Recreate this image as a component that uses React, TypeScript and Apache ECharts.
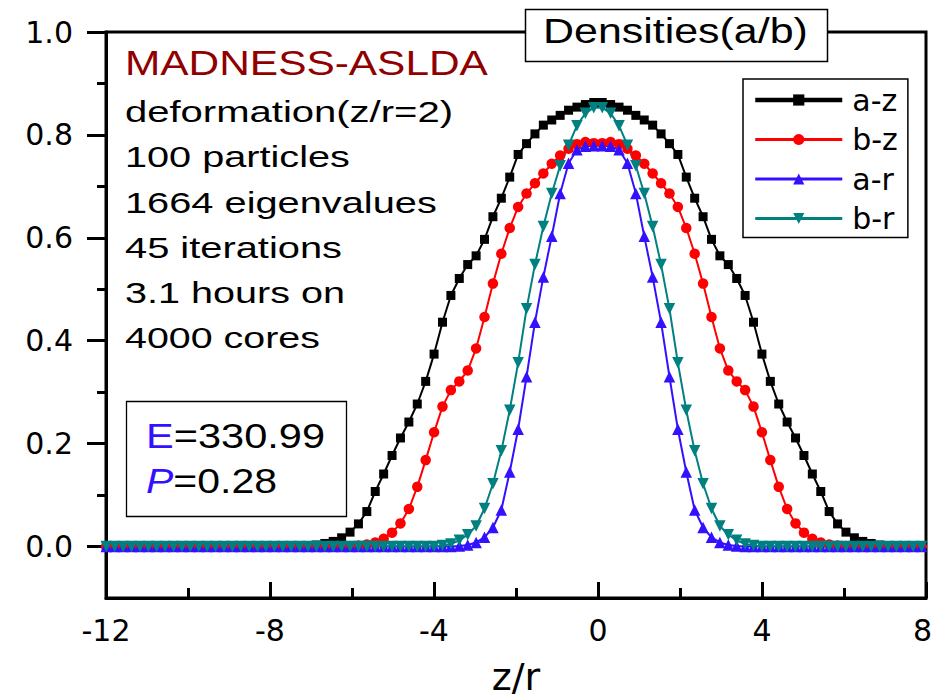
import React, { useEffect, useRef } from "react";
import * as echarts from "echarts";

// Sampling grid (z/r)
const Z_GRID = [
  -11.993, -11.788, -11.583, -11.378, -11.173, -10.968, -10.763, -10.558, -10.353, -10.148,
  -9.943, -9.738, -9.533, -9.328, -9.123, -8.918, -8.713, -8.508, -8.303, -8.098,
  -7.893, -7.688, -7.483, -7.278, -7.073, -6.868, -6.663, -6.458, -6.253, -6.048,
  -5.843, -5.638, -5.433, -5.228, -5.023, -4.818, -4.613, -4.408, -4.203, -3.998,
  -3.793, -3.588, -3.383, -3.178, -2.973, -2.768, -2.563, -2.358, -2.153, -1.948,
  -1.743, -1.538, -1.333, -1.128, -0.923, -0.718, -0.513, -0.308, -0.103,
  0.103, 0.308, 0.513, 0.718, 0.923, 1.128, 1.333, 1.538, 1.743, 1.948,
  2.153, 2.358, 2.563, 2.768, 2.973, 3.178, 3.383, 3.588, 3.793, 3.998,
  4.203, 4.408, 4.613, 4.818, 5.023, 5.228, 5.433, 5.638, 5.843, 6.048,
  6.253, 6.458, 6.663, 6.868, 7.073, 7.278, 7.483, 7.688, 7.893, 8.098,
];

const A_Z = [
  0, 0, 0, 0, 0, 0, 0, 0, 0, 0,
  0, 0, 0, 0, 0, 0, 0, 0, 0, 0,
  0, 0, 0, 0,
  0.001, 0.003, 0.006, 0.010, 0.017, 0.028, 0.044, 0.068, 0.107, 0.141,
  0.177, 0.211, 0.242, 0.277, 0.321, 0.374, 0.436, 0.488, 0.521, 0.548,
  0.565, 0.597, 0.641, 0.677, 0.718, 0.762, 0.783, 0.802, 0.819, 0.829,
  0.838, 0.848, 0.854, 0.859, 0.863,
  0.863, 0.859, 0.854, 0.848, 0.838, 0.829, 0.819, 0.802, 0.783, 0.762,
  0.718, 0.677, 0.641, 0.597, 0.565, 0.548, 0.521, 0.488, 0.436, 0.374,
  0.321, 0.277, 0.242, 0.211, 0.177, 0.141, 0.107, 0.068, 0.044, 0.028,
  0.017, 0.010, 0.006, 0.003, 0.001, 0, 0, 0, 0, 0,
];

const B_Z = [
  0, 0, 0, 0, 0, 0, 0, 0, 0, 0,
  0, 0, 0, 0, 0, 0, 0, 0, 0, 0,
  0, 0, 0, 0, 0, 0, 0, 0, 0,
  0.001, 0.002, 0.004, 0.008, 0.015, 0.027, 0.045, 0.073, 0.116, 0.168,
  0.222, 0.272, 0.304, 0.321, 0.342, 0.385, 0.446, 0.511, 0.569, 0.619,
  0.660, 0.686, 0.706, 0.725, 0.744, 0.760, 0.773, 0.782, 0.786, 0.784,
  0.784, 0.786, 0.782, 0.773, 0.760, 0.744, 0.725, 0.706, 0.686, 0.660,
  0.619, 0.569, 0.511, 0.446, 0.385, 0.342, 0.321, 0.304, 0.272, 0.222,
  0.168, 0.116, 0.073, 0.045, 0.027, 0.015, 0.008, 0.004, 0.002, 0.001,
  0, 0, 0, 0, 0, 0, 0, 0, 0, 0,
];

const A_R = [
  0, 0, 0, 0, 0, 0, 0, 0, 0, 0,
  0, 0, 0, 0, 0, 0, 0, 0, 0, 0,
  0, 0, 0, 0, 0, 0, 0, 0, 0, 0,
  0, 0, 0, 0, 0, 0, 0, 0, 0, 0,
  0, 0,
  0.001, 0.003, 0.008, 0.018, 0.037, 0.071, 0.145, 0.228, 0.330, 0.436,
  0.524, 0.603, 0.686, 0.745, 0.771, 0.778, 0.779,
  0.779, 0.778, 0.771, 0.745, 0.686, 0.603, 0.524, 0.436, 0.330, 0.228,
  0.145, 0.071, 0.037, 0.018, 0.008, 0.003, 0.001,
  0, 0, 0, 0, 0, 0, 0, 0, 0, 0,
  0, 0, 0, 0, 0, 0, 0, 0, 0, 0,
  0, 0, 0,
];

const B_R = [
  0, 0, 0, 0, 0, 0, 0, 0, 0, 0,
  0, 0, 0, 0, 0, 0, 0, 0, 0, 0,
  0, 0, 0, 0, 0, 0, 0, 0, 0, 0,
  0, 0, 0, 0, 0, 0, 0, 0, 0, 0,
  0.002, 0.005, 0.012, 0.023, 0.040, 0.074, 0.122, 0.186, 0.265, 0.357,
  0.462, 0.548, 0.622, 0.686, 0.740, 0.780, 0.818, 0.842, 0.853,
  0.853, 0.842, 0.818, 0.780, 0.740, 0.686, 0.622, 0.548, 0.462, 0.357,
  0.265, 0.186, 0.122, 0.074, 0.040, 0.023, 0.012, 0.005, 0.002,
  0, 0, 0, 0, 0, 0, 0, 0, 0, 0,
  0, 0, 0, 0, 0, 0, 0, 0, 0, 0,
  0,
];

const SERIES_NAMES = ["a-z", "b-z", "a-r", "b-r"];
const SERIES_VALUES = [A_Z, B_Z, A_R, B_R];
const X_MAX = 8;
const Y_LABEL_VALUES = [0, 0.2, 0.4, 0.6, 0.8, 1.0];
const Y_MINOR_VALUES = [0.1, 0.3, 0.5, 0.7, 0.9];
const TITLE = "Densities(a/b)";
const X_NAME = "z/r";
const CODE_NAME = "MADNESS-ASLDA";
const INFO_LINES = [
  "deformation(z/r=2)",
  "100 particles",
  "1664 eigenvalues",
  "45 iterations",
  "3.1 hours on",
  "4000 cores",
];
const ENERGY_SYMBOL = "E";
const ENERGY_VALUE = "330.99";
const P_SYMBOL = "P";
const P_VALUE = "0.28";

// layout / style
const COLORS = ["#000000", "#ff0000", "#3311ff", "#008080"];
const SYMBOLS = ["rect", "circle", "triangle", "triangle"];
const SYMBOL_ROTATE = [0, 0, 0, 180];
const SYMBOL_SIZE = [9, 10.5, 11.5, 11.5];
const INFO_WIDTHS = [328, 225, 312, 217, 220, 195];
const LABEL_FONT = "DejaVu Sans";
const SANS = '"Liberation Sans"';

let measureCtx: CanvasRenderingContext2D | null = null;
function textWidth(text: string, font: string): number {
  if (!measureCtx) measureCtx = document.createElement("canvas").getContext("2d");
  if (!measureCtx) return text.length * 10;
  measureCtx.font = font;
  return measureCtx.measureText(text).width;
}

function stretchedText(text: string, x: number, baseline: number, size: number, targetW: number, fill: string, z = 10) {
  const font = `${size}px ${SANS}`;
  return {
    type: "text",
    x,
    y: baseline - 0.35 * size,
    scaleX: targetW / textWidth(text, font),
    z,
    style: {
      text,
      font,
      fill,
      align: "left",
      textAlign: "left",
      verticalAlign: "middle",
      textVerticalAlign: "middle",
    },
  };
}

function richLine(sym: string, val: string, italic: boolean, x: number, baseline: number, size: number, targetW: number) {
  const font = `${size}px ${SANS}`;
  const symFont = `${italic ? "italic " : ""}${size}px ${SANS}`;
  const w = textWidth(sym, symFont) + textWidth("=" + val, font);
  return {
    type: "text",
    x,
    y: baseline - 0.35 * size,
    scaleX: targetW / w,
    z: 11,
    style: {
      text: `{s|${sym}}{v|=${val}}`,
      font,
      align: "left",
      textAlign: "left",
      verticalAlign: "middle",
      textVerticalAlign: "middle",
      rich: {
        s: { fill: "#3311ff", font: symFont },
        v: { fill: "#000000", font },
      },
    },
  };
}

export default function App() {
  const ref = useRef<HTMLDivElement>(null);

  useEffect(() => {
    document.body.style.margin = "0";
    if (!ref.current) return;
    const chart = echarts.init(ref.current, null, { renderer: "svg" });

    const series = SERIES_NAMES.map((name, i) => ({
      type: "line",
      name,
      data: Z_GRID.map((z, j) => [z, SERIES_VALUES[i][j]]),
      symbol: SYMBOLS[i],
      symbolSize: SYMBOL_SIZE[i],
      symbolRotate: SYMBOL_ROTATE[i],
      showAllSymbol: true,
      color: COLORS[i],
      itemStyle: { color: COLORS[i] },
      lineStyle: { color: COLORS[i], width: 2 },
      clip: true,
      silent: true,
      emphasis: { disabled: true },
    }));

    const graphic: any[] = [
      {
        type: "rect",
        z: 20,
        shape: { x: 525.5, y: 9.5, width: 302, height: 52 },
        style: { fill: "#ffffff", stroke: "#000000", lineWidth: 1.5 },
      },
      stretchedText(TITLE, 543, 43, 36, 265, "#000000", 21),
      stretchedText(CODE_NAME, 125, 75, 35, 363, "#900000"),
      ...INFO_LINES.map((t, i) => stretchedText(t, 125, 122 + i * 45.2, 29, INFO_WIDTHS[i], "#000000")),
      {
        type: "rect",
        z: 9,
        shape: { x: 126.5, y: 401.5, width: 220, height: 115 },
        style: { fill: "#ffffff", stroke: "#000000", lineWidth: 1.3 },
      },
      richLine(ENERGY_SYMBOL, ENERGY_VALUE, false, 146, 448, 36, 179),
      richLine(P_SYMBOL, P_VALUE, true, 146, 493, 36, 131),
    ];

    const option: any = {
      animation: false,
      backgroundColor: "#ffffff",
      legend: {
        orient: "vertical",
        left: 743,
        top: 79,
        padding: [6, 10, 4, 10],
        itemWidth: 87,
        itemHeight: 14,
        itemGap: 9.5,
        borderColor: "#000000",
        borderWidth: 1.5,
        backgroundColor: "#ffffff",
        selectedMode: false,
        textStyle: {
          fontFamily: LABEL_FONT,
          fontSize: 30,
          lineHeight: 30,
          color: "#000000",
          padding: [0, 0, 0, 5],
        },
        data: SERIES_NAMES.map((n, i) => ({ name: n, lineStyle: { width: i === 0 ? 4.5 : 3 } })),
      },
      grid: {
        left: 106,
        right: 7,
        top: 32,
        bottom: 102,
        show: true,
        borderColor: "#000000",
        borderWidth: 3,
        containLabel: false,
        outerBoundsMode: "none",
      },
      xAxis: {
        type: "value",
        min: -12,
        max: X_MAX,
        interval: 4,
        name: X_NAME,
        nameLocation: "middle",
        nameGap: 64,
        nameTextStyle: { fontFamily: LABEL_FONT, fontSize: 38, lineHeight: 30, color: "#000000" },
        axisLine: { show: true, onZero: false, lineStyle: { color: "#000000", width: 3 } },
        axisTick: { show: true, inside: true, length: 16, lineStyle: { color: "#000000", width: 3 } },
        minorTick: { show: true, splitNumber: 2, length: 10, lineStyle: { color: "#000000", width: 3 } },
        axisLabel: {
          margin: 17,
          fontFamily: LABEL_FONT,
          fontSize: 30,
          color: "#000000",
          formatter: (v: number) => (v === X_MAX ? `{edge|${v}}` : `${v}`),
          rich: {
            edge: { fontFamily: LABEL_FONT, fontSize: 30, color: "#000000", padding: [0, 7, 0, 0] },
          },
        },
        splitLine: { show: false },
        minorSplitLine: { show: false },
      },
      yAxis: [
        {
          type: "value",
          min: -0.1,
          max: 1.0,
          position: "left",
          axisLine: { show: true, onZero: false, lineStyle: { color: "#000000", width: 3 } },
          axisTick: {
            show: true,
            inside: false,
            length: 19,
            customValues: Y_LABEL_VALUES,
            lineStyle: { color: "#000000", width: 3 },
          },
          axisLabel: {
            customValues: Y_LABEL_VALUES,
            formatter: (v: number) => v.toFixed(1),
            margin: 33,
            fontFamily: LABEL_FONT,
            fontSize: 30,
            color: "#000000",
          },
          splitLine: { show: false },
        },
        {
          type: "value",
          min: -0.1,
          max: 1.0,
          position: "left",
          axisLine: { show: false, onZero: false },
          axisTick: {
            show: true,
            inside: false,
            length: 9,
            customValues: Y_MINOR_VALUES,
            lineStyle: { color: "#000000", width: 3 },
          },
          axisLabel: { show: false },
          splitLine: { show: false },
        },
      ],
      series,
      graphic,
    };

    chart.setOption(option);
    return () => chart.dispose();
  }, []);

  return <div ref={ref} style={{ width: 933, height: 700 }} />;
}
